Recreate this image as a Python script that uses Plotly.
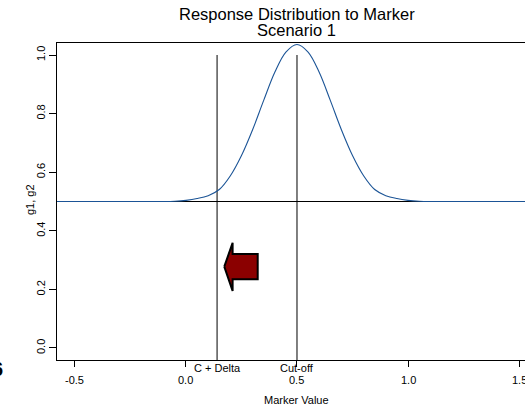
import plotly.graph_objects as go

# ---- data ----
curve_x = [-0.60, -0.55, -0.50, -0.45, -0.40, -0.35, -0.30, -0.25, -0.20, -0.15,
           -0.10, -0.05, 0.00, 0.05, 0.10, 0.15, 0.20, 0.25, 0.30, 0.35,
           0.40, 0.45, 0.50, 0.55, 0.60, 0.65, 0.70, 0.75, 0.80, 0.85,
           0.90, 0.95, 1.00, 1.05, 1.10, 1.15, 1.20, 1.25, 1.30, 1.35,
           1.40, 1.45, 1.50, 1.55, 1.60]
curve_y = [0.500, 0.500, 0.500, 0.500, 0.500, 0.500, 0.500, 0.500, 0.500, 0.500,
           0.500, 0.501, 0.504, 0.510, 0.520, 0.541, 0.588, 0.657, 0.745, 0.845,
           0.941, 1.010, 1.036, 1.010, 0.941, 0.845, 0.745, 0.657, 0.588, 0.541,
           0.520, 0.510, 0.504, 0.501, 0.500, 0.500, 0.500, 0.500, 0.500, 0.500,
           0.500, 0.500, 0.500, 0.500, 0.500]

hline_y = 0.5
vline_x = [0.14, 0.50]
vline_labels = ["C + Delta", "Cut-off"]
vline_top = 1.0

arrow_x = [0.1725, 0.210, 0.210, 0.323, 0.323, 0.210, 0.210, 0.1725]
arrow_y = [0.2775, 0.359, 0.321, 0.321, 0.2345, 0.2345, 0.1945, 0.2775]

x_ticks = [-0.5, 0.0, 0.5, 1.0, 1.5]
x_ticktext = ["-0.5", "0.0", "0.5", "1.0", "1.5"]
y_ticks = [0.0, 0.2, 0.4, 0.6, 0.8, 1.0]
y_ticktext = ["0.0", "0.2", "0.4", "0.6", "0.8", "1.0"]

title1 = "Response Distribution to Marker"
title2 = "Scenario 1"
x_title = "Marker Value"
y_title = "g1, g2"

FONT = "Liberation Sans, Arial, sans-serif"
X_RANGE = [-0.581, 1.527]
Y_RANGE = [-0.041, 1.041]

fig = go.Figure()

# horizontal reference line
fig.add_trace(go.Scatter(x=[X_RANGE[0] - 1, X_RANGE[1] + 1], y=[hline_y, hline_y],
                         mode="lines", line=dict(color="black", width=1),
                         hoverinfo="skip", showlegend=False))
# vertical lines
for vx in vline_x:
    fig.add_trace(go.Scatter(x=[vx, vx], y=[Y_RANGE[0] - 0.1, vline_top],
                             mode="lines", line=dict(color="black", width=1),
                             hoverinfo="skip", showlegend=False))
# curve
fig.add_trace(go.Scatter(x=curve_x, y=curve_y, mode="lines",
                         line=dict(color="#1b5496", width=1.1, shape="spline"),
                         showlegend=False))
# arrow
fig.add_trace(go.Scatter(x=arrow_x, y=arrow_y, mode="lines", fill="toself",
                         fillcolor="#8B0000", line=dict(color="black", width=2),
                         showlegend=False))

TICK_Y = (360 - 380) / 317
annotations = []
for vx, lab in zip(vline_x, vline_labels):
    annotations.append(dict(x=vx, xref="x", y=(360 - 367.5) / 317, yref="paper",
                            text=lab, showarrow=False, xanchor="center", yanchor="middle",
                            font=dict(family=FONT, size=11, color="black")))
# x tick labels drawn as text so the edge label is kept (clipped like the reference)
for tv, tt in zip(x_ticks, x_ticktext):
    annotations.append(dict(x=tv, xref="x", y=TICK_Y, yref="paper", text=tt,
                            showarrow=False, xanchor="center", yanchor="middle",
                            font=dict(family=FONT, size=11, color="black")))
annotations += [
    dict(x=0.5, xref="x", y=(360 - 14) / 317, yref="paper", text=title1,
         showarrow=False, xanchor="center", yanchor="middle",
         font=dict(family=FONT, size=16.5, color="black")),
    dict(x=0.5, xref="x", y=(360 - 30) / 317, yref="paper", text=title2,
         showarrow=False, xanchor="center", yanchor="middle",
         font=dict(family=FONT, size=16.5, color="black")),
    dict(x=0.5, xref="x", y=(360 - 400) / 317, yref="paper", text=x_title,
         showarrow=False, xanchor="center", yanchor="middle",
         font=dict(family=FONT, size=11, color="black")),
    dict(x=(30 - 57) / 468, xref="paper", y=0.505, yref="y", text=y_title,
         showarrow=False, xanchor="center", yanchor="middle", textangle=-90,
         font=dict(family=FONT, size=11, color="black")),
    dict(x=(5 - 57) / 468, xref="paper", y=(360 - 369) / 317, yref="paper", text="<b>6</b>",
         showarrow=False, xanchor="right", yanchor="middle",
         font=dict(family=FONT, size=20, color="black")),
]

fig.update_layout(
    width=525, height=409,
    margin=dict(l=57, r=0, t=43, b=49),
    paper_bgcolor="white", plot_bgcolor="white",
    showlegend=False,
    annotations=annotations,
    xaxis=dict(range=X_RANGE, tickvals=x_ticks, showticklabels=False,
               showgrid=False, zeroline=False, showline=True, linecolor="black",
               linewidth=1, mirror=True, ticks="outside", ticklen=6, tickcolor="black"),
    yaxis=dict(range=Y_RANGE, tickvals=y_ticks, ticktext=y_ticktext, tickangle=-90,
               showgrid=False, zeroline=False, showline=True, linecolor="black",
               linewidth=1, ticks="outside", ticklen=7, tickcolor="black",
               tickfont=dict(family=FONT, size=11, color="black")),
)

fig.write_html("out.html")
